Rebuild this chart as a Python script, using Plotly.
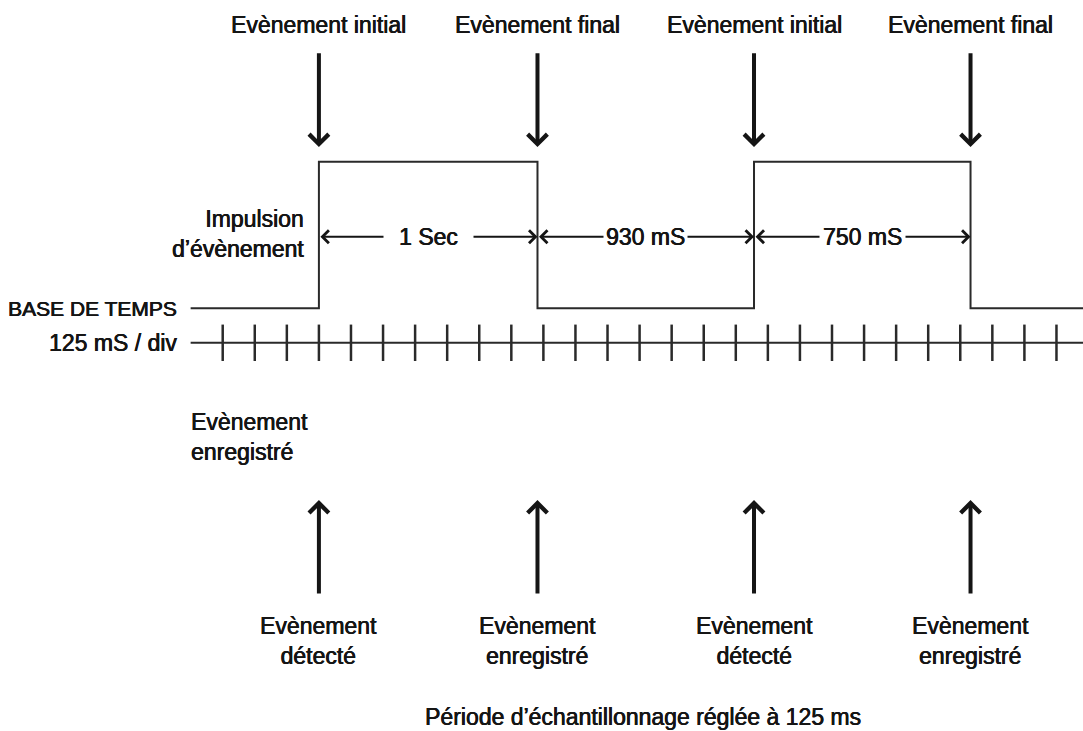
import plotly.graph_objects as go

# ---------------- data (time in ms) ----------------
edges_ms = [375, 1227, 2071, 2915]          # pulse transitions (rise, fall, rise, fall)
trace_start_ms = -125
trace_end_ms = 3450
tick_ms = [125 * k for k in range(27)]      # 125 mS / div timebase
top_labels = ["Evènement initial", "Evènement final", "Evènement initial", "Evènement final"]
bottom_labels = ["Evènement<br>détecté", "Evènement<br>enregistré",
                 "Evènement<br>détecté", "Evènement<br>enregistré"]
interval_labels = ["1 Sec", "930 mS", "750 mS"]
interval_pads = [15, 2, 3]

LOW, HIGH = 0.0, 1.0
AXIS_Y = -0.235
DIM_Y = 0.489

INK = "#151515"
LINE = "#2a2a2a"
FONT = "Liberation Sans, Arial, sans-serif"
FS = 23
SHADOW = "0.45px 0 0 #151515, -0.2px 0 0 #151515"


def f(size=FS):
    return dict(family=FONT, size=size, color=INK, shadow=SHADOW)


# pulse waveform built from the edges
px, py = [trace_start_ms], [LOW]
level = LOW
for e in edges_ms:
    px += [e, e]
    new = HIGH if level == LOW else LOW
    py += [level, new]
    level = new
px.append(trace_end_ms)
py.append(level)

fig = go.Figure()
fig.add_trace(go.Scatter(x=px, y=py, mode="lines",
                         line=dict(color=LINE, width=2), hoverinfo="skip"))
# timebase axis line
fig.add_trace(go.Scatter(x=[trace_start_ms, trace_end_ms], y=[AXIS_Y, AXIS_Y], mode="lines",
                         line=dict(color=LINE, width=2), hoverinfo="skip"))
# timebase ticks
fig.add_trace(go.Scatter(x=tick_ms, y=[AXIS_Y] * len(tick_ms), mode="markers",
                         marker=dict(symbol="line-ns-open", size=26, color=LINE,
                                     line=dict(color=LINE, width=2.5)),
                         hoverinfo="skip"))

ann = []
# top labels and down arrows
for e, t in zip(edges_ms, top_labels):
    ann.append(dict(x=e, y=1.932, text=t, showarrow=False, font=f(),
                    xanchor="center", yanchor="middle"))
    ann.append(dict(x=e, y=1.10, ax=e, ay=1.75, axref="x", ayref="y", text="",
                    showarrow=True, arrowhead=4, arrowsize=0.95, arrowwidth=4,
                    arrowcolor=INK, standoff=0))
# bottom up arrows and labels
for e, t in zip(edges_ms, bottom_labels):
    ann.append(dict(x=e, y=-1.308, ax=e, ay=-1.956, axref="x", ayref="y", text="",
                    showarrow=True, arrowhead=4, arrowsize=0.95, arrowwidth=4,
                    arrowcolor=INK, standoff=0))
    ann.append(dict(x=e, y=-2.269, text=t, showarrow=False, font=f(),
                    xanchor="center", yanchor="middle", align="center"))
# dimension arrows between edges
for i, lab in enumerate(interval_labels):
    a, b = edges_ms[i], edges_ms[i + 1]
    ann.append(dict(x=b, y=DIM_Y, ax=a, ay=DIM_Y, axref="x", ayref="y", text="",
                    showarrow=True, arrowside="end+start",
                    arrowhead=4, startarrowhead=4, arrowsize=1.25, startarrowsize=1.25,
                    arrowwidth=2, arrowcolor=INK, standoff=0, startstandoff=0))
for i, lab in enumerate(interval_labels):
    a, b = edges_ms[i], edges_ms[i + 1]
    ann.append(dict(x=(a + b) / 2, y=DIM_Y, text=lab, showarrow=False, font=f(),
                    bgcolor="white", borderpad=interval_pads[i],
                    xanchor="center", yanchor="middle"))

# side labels
ann.append(dict(x=edges_ms[0] - 50, y=0.508, text="Impulsion<br>d’évènement", showarrow=False,
                font=f(), xanchor="right", yanchor="middle", align="right"))
ann.append(dict(x=trace_start_ms - 45, y=0.0, text="BASE DE TEMPS", showarrow=False,
                font=f(21), xanchor="right", yanchor="middle"))
ann.append(dict(x=trace_start_ms - 45, y=AXIS_Y, text="125 mS / div", showarrow=False,
                font=f(), xanchor="right", yanchor="middle"))
ann.append(dict(x=trace_start_ms - 5, y=-0.878, text="Evènement<br>enregistré", showarrow=False,
                font=f(), xanchor="left", yanchor="middle", align="left"))
ann.append(dict(x=1640, y=-2.788, text="Période d’échantillonnage réglée à 125 ms", showarrow=False,
                font=f(), xanchor="center", yanchor="middle"))

fig.update_layout(
    width=1083, height=731,
    margin=dict(l=0, r=0, t=0, b=0),
    paper_bgcolor="white", plot_bgcolor="white",
    showlegend=False,
    xaxis=dict(range=[-868.1, 3353.4], visible=False, fixedrange=True),
    yaxis=dict(range=[-2.883, 2.103], visible=False, fixedrange=True),
    annotations=ann,
)

fig.write_html("out.html", config={"displayModeBar": False},
               post_script="document.body.style.margin='0';document.body.style.overflow='hidden';")
